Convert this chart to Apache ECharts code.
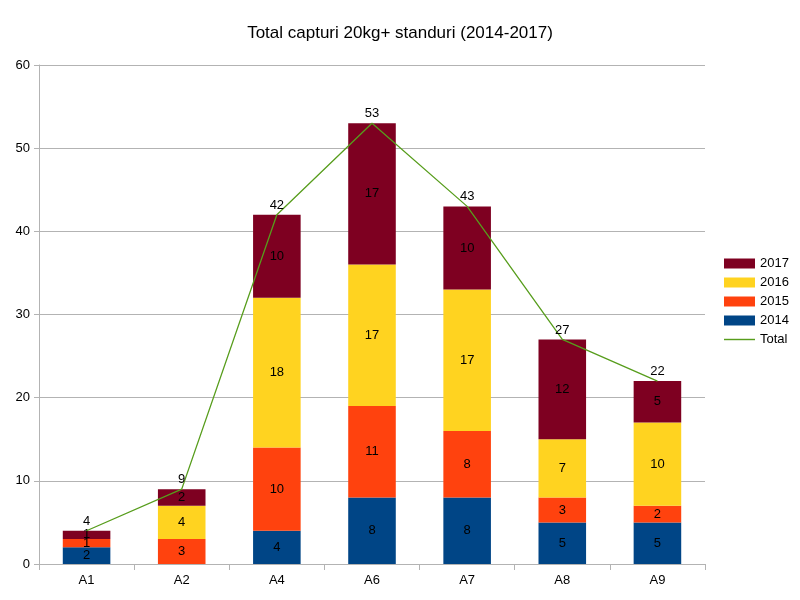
<!DOCTYPE html>
<html><head><meta charset="utf-8">
<script src="https://cdn.jsdelivr.net/npm/echarts@6/dist/echarts.min.js"></script>
<style>html,body{margin:0;padding:0;background:#fff}#c{width:800px;height:600px}</style>
</head><body><div id="c"></div>
<script>
var categories = ["A1","A2","A4","A6","A7","A8","A9"];
var y2014 = [2,0,4,8,8,5,5];
var y2015 = [1,3,10,11,8,3,2];
var y2016 = [0,4,18,17,17,7,10];
var y2017 = [1,2,10,17,10,12,5];
var totals = [4,9,42,53,43,27,22];
var yTicks = [0,10,20,30,40,50,60];

var font = "Liberation Sans";
function barSeries(name, data, color){
  return {
    name:name, type:'bar', stack:'s', data:data, barWidth:'50%',
    itemStyle:{color:color},
    label:{show:true, position:'inside', color:'#000', fontFamily:font, fontSize:13,
      formatter:function(p){return p.value ? String(p.value) : '';}}
  };
}
var chart = echarts.init(document.getElementById('c'));
chart.setOption({
  animation:false,
  title:{text:'Total capturi 20kg+ standuri (2014-2017)', left:'center', top:20,
    textStyle:{fontFamily:font, fontSize:17, fontWeight:'normal', color:'#000'}},
  grid:{left:39, right:95, top:65, bottom:36},
  legend:{orient:'vertical', left:719, top:252, itemGap:6, itemWidth:31, itemHeight:10,
    textStyle:{fontFamily:font, fontSize:13, color:'#000'},
    data:[{name:'2017', icon:'rect'},{name:'2016', icon:'rect'},{name:'2015', icon:'rect'},{name:'2014', icon:'rect'},
      {name:'Total', icon:'path://M0,4.4L30,4.4L30,5.8L0,5.8Z', itemStyle:{color:'#579d1c', borderWidth:0}}]},
  xAxis:{type:'category', data:categories,
    axisLine:{lineStyle:{color:'#b3b3b3'}},
    axisTick:{show:true, alignWithLabel:false, length:6, lineStyle:{color:'#b3b3b3'}},
    axisLabel:{fontFamily:font, fontSize:13, color:'#000', margin:10}},
  yAxis:{type:'value', min:yTicks[0], max:yTicks[yTicks.length-1], interval:10,
    axisLine:{show:true, lineStyle:{color:'#b3b3b3'}},
    axisTick:{show:true, length:5, lineStyle:{color:'#b3b3b3'}},
    splitLine:{lineStyle:{color:'#b3b3b3'}},
    axisLabel:{fontFamily:font, fontSize:13, color:'#000', margin:9}},
  series:[
    barSeries('2014', y2014, '#004586'),
    barSeries('2015', y2015, '#ff420e'),
    barSeries('2016', y2016, '#ffd320'),
    barSeries('2017', y2017, '#7e0021'),
    {name:'Total', type:'line', data:totals, symbol:'circle', symbolSize:0, showSymbol:true, z:5,
     lineStyle:{color:'#579d1c', width:1.3}, itemStyle:{color:'#579d1c'},
     label:{show:true, position:'top', distance:3, color:'#000', fontFamily:font, fontSize:13}}
  ]
});
</script></body></html>
